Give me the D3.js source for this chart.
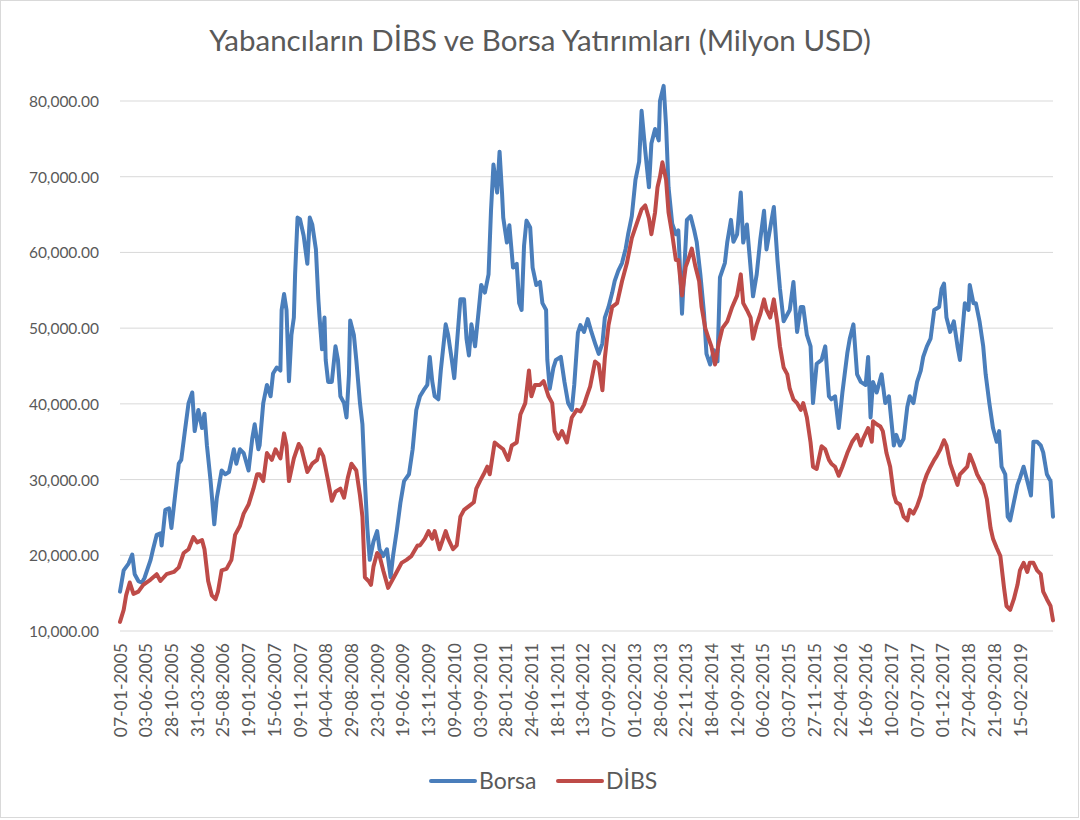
<!DOCTYPE html>
<html>
<head>
<meta charset="utf-8">
<script src="https://cdn.jsdelivr.net/npm/d3@7"></script>
<style>
  body { margin: 0; background: #fff; }
  svg text { font-family: Lato, "Noto Sans", sans-serif; fill: #595959; }
</style>
</head>
<body>
<svg id="chart" width="1080" height="820"></svg>
<script>
// weekly data starting 07-01-2005, [week number, value]
var weekCount = 763;
var tickEvery = 21;
var tickLabels = ["07-01-2005","03-06-2005","28-10-2005","31-03-2006","25-08-2006","19-01-2007",
  "15-06-2007","09-11-2007","04-04-2008","29-08-2008","23-01-2009","19-06-2009","13-11-2009",
  "09-04-2010","03-09-2010","28-01-2011","24-06-2011","18-11-2011","13-04-2012","07-09-2012",
  "01-02-2013","28-06-2013","22-11-2013","18-04-2014","12-09-2014","06-02-2015","03-07-2015",
  "27-11-2015","22-04-2016","16-09-2016","10-02-2017","07-07-2017","01-12-2017","27-04-2018",
  "21-09-2018","15-02-2019"];
var yTicks = [10000, 20000, 30000, 40000, 50000, 60000, 70000, 80000];

var borsa = [[0,15200],[3,18000],[7,18900],[10,20100],[12,17500],[15,16600],[18,16400],[20,17000],
  [25,19400],[27,20800],[30,22700],[33,22900],[34,21300],[37,26000],[40,26200],[42,23600],[45,27900],
  [48,32100],[50,32600],[53,36400],[56,40100],[59,41500],[61,36400],[64,39200],[67,36800],[69,38700],
  [71,34500],[74,29800],[77,24100],[79,27500],[83,31200],[86,30700],[89,31000],[93,34000],[95,32100],
  [98,34000],[101,33500],[105,31200],[108,35400],[110,37300],[113,34000],[114,34500],[117,40100],
  [120,42500],[123,41000],[125,44000],[128,44800],[131,44400],[132,52400],[134,54500],[136,52400],
  [138,43000],[140,49100],[142,51400],[143,57100],[145,64600],[147,64400],[150,62200],[153,58500],
  [155,64600],[157,63700],[160,60400],[162,53800],[163,51400],[165,47200],[167,51400],[168,45800],
  [170,42900],[173,42900],[176,47600],[178,45800],[180,41000],[183,40100],[185,38200],[187,43900],
  [188,51000],[191,49100],[193,45800],[196,40100],[198,37300],[200,29800],[202,23600],[204,19400],
  [207,21800],[210,23200],[212,20800],[215,19900],[218,20800],[221,17100],[223,19900],[226,23200],
  [229,26900],[232,29800],[236,30700],[239,34000],[242,39200],[245,41000],[248,41800],[251,42500],
  [253,46200],[255,43000],[257,41000],[260,40600],[262,44400],[266,50500],[268,49100],[271,45800],
  [273,43400],[275,47600],[278,53800],[281,53800],[283,48600],[285,46400],[287,50500],[290,47600],
  [293,52400],[295,55700],[298,54700],[301,57100],[303,65500],[305,71600],[308,67900],[310,73300],
  [312,67900],[313,64600],[316,61300],[318,63600],[321,58000],[324,58500],[326,53300],[328,52400],
  [330,60900],[332,64200],[335,63300],[337,58000],[340,55700],[343,56100],[345,53300],[348,52400],
  [349,45800],[351,42000],[354,44800],[356,45800],[360,46200],[363,42900],[366,40100],[369,39200],
  [371,42500],[374,49400],[376,50400],[379,49500],[382,51200],[385,49500],[388,48000],[391,46600],
  [394,48000],[396,51400],[399,52800],[402,54700],[404,56200],[407,57600],[410,58600],[413,60500],
  [415,62400],[418,64800],[421,69600],[424,72000],[426,78700],[429,73400],[432,68600],[434,74400],
  [437,76300],[440,74800],[441,80000],[444,82000],[446,76700],[448,68600],[451,63800],[454,62400],
  [456,62900],[459,51900],[460,55200],[463,64300],[466,64800],[469,62900],[471,61400],[474,57100],
  [477,51900],[479,46600],[482,45200],[485,47100],[488,45600],[490,56700],[494,58600],[496,61400],
  [499,64300],[501,61400],[504,62400],[507,67900],[509,61300],[512,63700],[515,58000],[517,54200],
  [520,57100],[523,61800],[526,65500],[528,60400],[531,63200],[534,66000],[537,58900],[539,55200],
  [542,50900],[545,51800],[547,52400],[550,56100],[553,49500],[556,52800],[558,52800],[561,49100],
  [564,47600],[566,40100],[569,45300],[573,45800],[576,47600],[579,41000],[581,40600],[584,41000],
  [587,36800],[590,41500],[594,46700],[596,48600],[599,50500],[602,43900],[605,42900],[609,42500],
  [611,46200],[613,38200],[615,42900],[618,41500],[622,43900],[625,40100],[628,41000],[632,34500],
  [634,35900],[637,34500],[640,35400],[643,39600],[645,41000],[648,40100],[651,42900],[654,44400],
  [656,46200],[659,47600],[662,48600],[665,52400],[669,52800],[671,55200],[673,55900],[675,51400],
  [678,49500],[681,50900],[684,47600],[686,45800],[688,49500],[690,53300],[693,52400],[694,55700],
  [697,53300],[699,53300],[702,50900],[705,47600],[707,43900],[710,40100],[713,36800],[716,35000],
  [718,36400],[720,31700],[723,30700],[725,25100],[727,24600],[730,27000],[733,29300],[735,30200],
  [738,31700],[741,29800],[744,27900],[746,35000],[749,35000],[752,34500],[754,33600],[757,30700],
  [760,29800],[762,25100]];

var dibs = [[0,11200],[3,12800],[5,14700],[8,16400],[11,14900],[15,15200],[19,16100],[25,16800],
  [30,17500],[33,16600],[38,17500],[44,17800],[48,18400],[52,20300],[56,20800],[60,22400],[63,21700],
  [67,22000],[69,20800],[72,16600],[75,14700],[78,14200],[80,15200],[83,18000],[87,18200],[91,19400],
  [94,22700],[98,23900],[101,25500],[105,26700],[109,28800],[112,30700],[114,30700],[117,29800],
  [120,33500],[124,32600],[127,34000],[131,32800],[134,36100],[136,34500],[138,29800],[142,32800],
  [146,34700],[148,34200],[153,31000],[157,32100],[161,32600],[163,34000],[166,33100],[170,29800],
  [173,27200],[176,28400],[180,28800],[183,27600],[186,30200],[189,32100],[193,31200],[196,27900],
  [198,25100],[200,17100],[203,16600],[205,16100],[207,18500],[210,20300],[212,19900],[215,18000],
  [219,15700],[222,16600],[226,17800],[230,19000],[234,19400],[238,19900],[243,21300],[245,21300],
  [249,22200],[252,23200],[255,22200],[257,23200],[261,20800],[266,23200],[268,22200],[272,20800],
  [275,21300],[278,25100],[281,26000],[285,26500],[289,27000],[291,28800],[294,29800],[297,30700],
  [300,31700],[302,30700],[306,34900],[309,34500],[313,34000],[317,32600],[320,34500],[324,34900],
  [327,38600],[331,40100],[334,44400],[336,41000],[339,42500],[343,42500],[346,43000],[350,41000],
  [353,40100],[355,36400],[358,35400],[361,36400],[365,34900],[369,38200],[373,39200],[376,39000],
  [379,39900],[381,40900],[384,42300],[388,45600],[391,45200],[394,41800],[396,46100],[399,50400],
  [402,52800],[406,53300],[410,56200],[414,58600],[418,61900],[422,63800],[426,65700],[429,66200],
  [432,64500],[434,62400],[437,65300],[439,68600],[441,70000],[443,71900],[446,69600],[448,65300],
  [451,62400],[454,59000],[456,59000],[459,54300],[462,58100],[464,59000],[467,60500],[470,58100],
  [473,56200],[475,52800],[478,50000],[481,48500],[483,47600],[486,45200],[489,48000],[492,50000],
  [496,50900],[500,52800],[504,54300],[507,57100],[509,53300],[512,52400],[515,51400],[517,48600],
  [520,50500],[523,51900],[526,53800],[528,52400],[531,51400],[534,53800],[537,50500],[539,47600],
  [542,44800],[545,43900],[547,42000],[550,40600],[553,40100],[556,39200],[558,40100],[561,38200],
  [564,34900],[566,31700],[569,31400],[573,34400],[576,34000],[579,32600],[581,32100],[584,31700],
  [587,30500],[590,31700],[594,33500],[598,35000],[602,35900],[605,34500],[607,35400],[611,36800],
  [614,35000],[615,37700],[618,37300],[621,37000],[623,36400],[626,33500],[629,31700],[632,28000],
  [634,27000],[637,26700],[640,25100],[643,24600],[645,26000],[648,25500],[651,26500],[654,27900],
  [656,29300],[659,30700],[662,31700],[665,32600],[667,33100],[670,34000],[673,35200],[675,34500],
  [678,32100],[681,30700],[684,29300],[686,30700],[689,31200],[692,31700],[694,33300],[697,32100],
  [700,30700],[703,29800],[705,29300],[708,27400],[711,23600],[713,22200],[716,21000],[719,19900],
  [722,15700],[724,13300],[727,12800],[730,14200],[733,16100],[735,18000],[738,19000],[741,17800],
  [743,19000],[746,19000],[749,18000],[752,17500],[754,15200],[757,14200],[760,13300],[762,11400]];

var svg = d3.select("#chart");
var plotLeft = 120, plotRight = 1053, plotTop = 101, plotBottom = 631;

// chart border
svg.append("rect")
    .attr("x", 0.5).attr("y", 0.5)
    .attr("width", 1078).attr("height", 817)
    .attr("fill", "#fff").attr("stroke", "#d9d9d9");

var x = d3.scaleLinear().domain([0, weekCount - 1]).range([plotLeft, plotRight]);
var y = d3.scaleLinear().domain([10000, 80000]).range([plotBottom, plotTop]);

// gridlines
svg.append("g").selectAll("line")
    .data(yTicks).enter().append("line")
    .attr("x1", plotLeft).attr("x2", plotRight)
    .attr("y1", function (d) { return y(d); })
    .attr("y2", function (d) { return y(d); })
    .attr("stroke", "#d9d9d9").attr("stroke-width", 1);

// y axis
var yAxis = svg.append("g")
    .attr("transform", "translate(" + (plotLeft - 18) + ",0)")
    .call(d3.axisLeft(y).tickValues(yTicks).tickFormat(d3.format(",.2f")).tickSize(0));
yAxis.select(".domain").remove();
yAxis.selectAll("text").attr("font-size", 15.5).attr("dy", "0.35em").attr("fill", "#595959");

// x axis
var xAxis = svg.append("g")
    .attr("transform", "translate(0," + plotBottom + ")")
    .call(d3.axisBottom(x)
        .tickValues(tickLabels.map(function (d, i) { return i * tickEvery; }))
        .tickFormat(function (d, i) { return tickLabels[i]; })
        .tickSize(0));
xAxis.select(".domain").remove();
xAxis.selectAll("text")
    .attr("font-size", 17.5)
    .attr("fill", "#595959")
    .attr("text-anchor", "end")
    .attr("transform", "rotate(-90)")
    .attr("x", -12).attr("y", 0).attr("dy", "0.35em");

// lines
var line = d3.line()
    .x(function (d) { return x(d[0]); })
    .y(function (d) { return y(d[1]); });

svg.append("path").datum(borsa)
    .attr("d", line).attr("fill", "none")
    .attr("stroke", "#4a7ebb").attr("stroke-width", 4)
    .attr("stroke-linejoin", "round").attr("stroke-linecap", "round");

svg.append("path").datum(dibs)
    .attr("d", line).attr("fill", "none")
    .attr("stroke", "#be4b48").attr("stroke-width", 4)
    .attr("stroke-linejoin", "round").attr("stroke-linecap", "round");

// title
svg.append("text")
    .attr("x", 540).attr("y", 51)
    .attr("text-anchor", "middle")
    .attr("font-size", 29.5)
    .text("Yabancıların DİBS ve Borsa Yatırımları (Milyon USD)");

// legend
var legend = [
    { name: "Borsa", color: "#4a7ebb", x: 431 },
    { name: "DİBS", color: "#be4b48", x: 558 }
];
var lg = svg.append("g").selectAll("g").data(legend).enter().append("g")
    .attr("transform", function (d) { return "translate(" + d.x + ",781)"; });
lg.append("line")
    .attr("x1", 0).attr("x2", 44)
    .attr("stroke", function (d) { return d.color; })
    .attr("stroke-width", 4).attr("stroke-linecap", "round");
lg.append("text")
    .attr("x", 48).attr("dy", "0.35em")
    .attr("font-size", 23)
    .text(function (d) { return d.name; });
</script>
</body>
</html>
